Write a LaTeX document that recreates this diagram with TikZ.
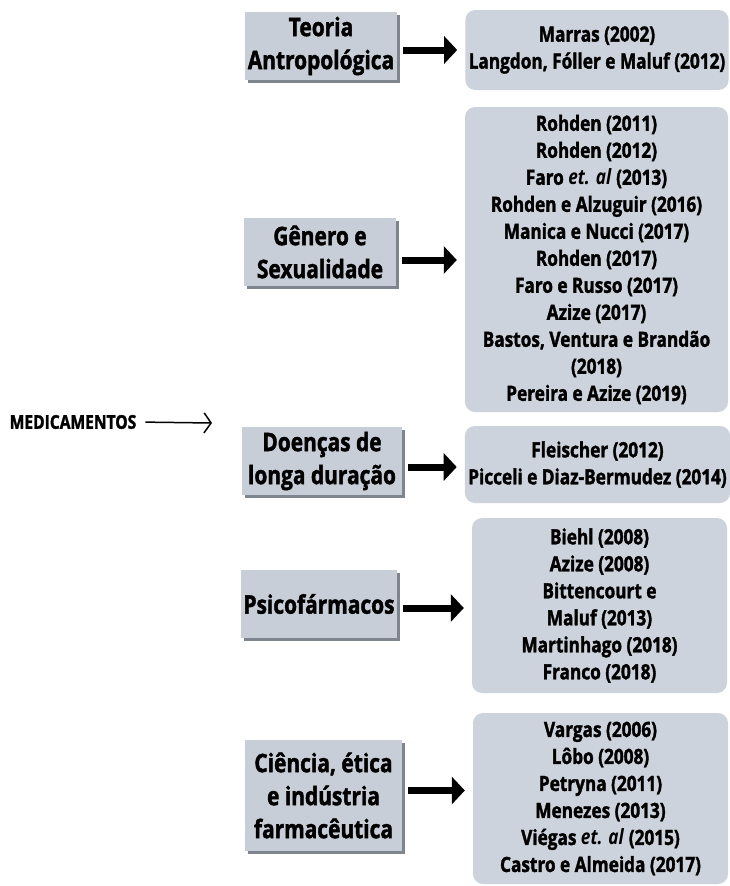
\documentclass[tikz,border=0pt]{standalone}
\usepackage{fontspec}
\setmainfont{Open Sans}[FakeStretch=0.82, BoldFeatures={FakeBold=1.6}]
\usetikzlibrary{arrows.meta, positioning, shadows}
\definecolor{boxgray}{HTML}{CDD3DC}
\definecolor{topicgray}{HTML}{C8CED7}
\definecolor{shadowgray}{HTML}{7F858E}

\begin{document}
\begin{tikzpicture}[x=1pt, y=-1pt,
        topic/.style={rectangle, fill=topicgray, inner sep=2pt, align=center, font=\fontsize{25.5}{33}\selectfont\bfseries, drop shadow={shadow xshift=3pt, shadow yshift=-3pt, fill=shadowgray, opacity=1}},
        refs/.style={rectangle, fill=boxgray, rounded corners=10pt, align=center, font=\fontsize{21}{27}\selectfont\bfseries},
        bigarrow/.style={-{Triangle[length=13pt, width=27pt]}, line width=7pt, shorten <=6pt, shorten >=8pt}
    ]
        \useasboundingbox (0,0) rectangle (729,886);

        % Left label
        \node[font=\fontsize{19}{22}\selectfont\bfseries, inner sep=0pt] (medic) at (73,422) {MEDICAMENTOS};
        \coordinate (medictip) at (212,423);
        \draw[line width=1.5pt, -{Straight Barb[length=7pt, width=20pt]}, shorten <=9pt] (medic.east) -- (medictip);

        % Topics
        \node[topic, minimum width=152pt, minimum height=68pt] (teoria) at (321,46) {Teoria\\Antropológica};
        \node[topic, minimum width=152pt, minimum height=68pt] (genero) at (320,252) {Gênero e\\Sexualidade};
        \node[topic, minimum width=160pt, minimum height=68pt] (doencas) at (322,461) {Doenças de\\longa duração};
        \node[topic, minimum width=150pt, minimum height=68pt] (psico) at (319,604) {Psicofármacos};
        \node[topic, minimum width=157pt, minimum height=111pt] (ciencia) at (323.5,795.5) {Ciência, ética\\e indústria\\farmacêutica};

        % References
        \node[refs, minimum width=260pt, minimum height=80pt] (refteoria) at (597,50) {Marras (2002)\\Langdon, Fóller e Maluf (2012)};
        \node[refs, minimum width=263pt, minimum height=305pt] (refgenero) at (596.5,259.5) {Rohden (2011)\\Rohden (2012)\\Faro \textit{et. al} (2013)\\Rohden e Alzuguir (2016)\\Manica e Nucci (2017)\\Rohden (2017)\\Faro e Russo (2017)\\Azize (2017)\\Bastos, Ventura e Brandão\\(2018)\\Pereira e Azize (2019)};
        \node[refs, minimum width=259pt, minimum height=77pt] (refdoencas) at (597.5,464.5) {Fleischer (2012)\\Picceli e Diaz-Bermudez (2014)};
        \node[refs, minimum width=255pt, minimum height=175pt] (refpsico) at (599.5,605.5) {Biehl (2008)\\Azize (2008)\\Bittencourt e\\Maluf (2013)\\Martinhago (2018)\\Franco (2018)};
        \node[refs, minimum width=255pt, minimum height=171pt] (refciencia) at (600.5,798.5) {Vargas (2006)\\Lôbo (2008)\\Petryna (2011)\\Menezes (2013)\\Viégas \textit{et. al} (2015)\\Castro e Almeida (2017)};

        % Arrows
        \foreach \src/\dst/\dy in {teoria/refteoria/4, genero/refgenero/8, doencas/refdoencas/6, psico/refpsico/4, ciencia/refciencia/-5}
            \draw[bigarrow] ([yshift=-\dy pt]\src.east) -- ([yshift=-\dy pt]\src.east -| \dst.west);
\end{tikzpicture}
\end{document}
